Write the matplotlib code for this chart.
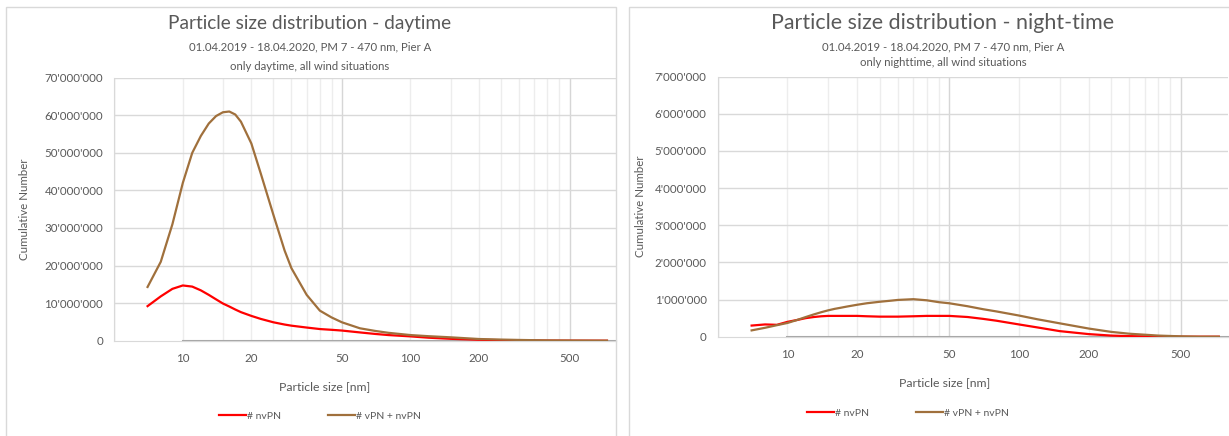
"""Particle size distribution, daytime vs night-time (Excel-style look)."""
import matplotlib
matplotlib.use("Agg")
import matplotlib.pyplot as plt
from matplotlib.patches import Rectangle

W, H = 1229, 436
GREY = "#595959"
RED = "#ff0000"
BROWN = "#a0703c"

# particle size [nm]
size_nm = [7, 8, 9, 10, 11, 12, 13, 14, 15, 16, 17, 18, 20, 22, 25, 28, 30, 35, 40,
           45, 50, 60, 70, 80, 100, 120, 150, 200, 250, 300, 400, 500, 600, 730]

# daytime, cumulative number (millions)
day_nvpn = [9.2, 11.8, 13.8, 14.7, 14.4, 13.4, 12.2, 11.0, 9.9, 9.1, 8.3, 7.6, 6.6, 5.8,
            4.9, 4.3, 4.0, 3.5, 3.1, 2.9, 2.7, 2.2, 1.8, 1.5, 1.15, 0.8, 0.5, 0.25, 0.15,
            0.1, 0.04, 0.02, 0.01, 0.0]
day_total = [14.3, 21.0, 31.0, 42.0, 50.0, 54.5, 57.8, 59.8, 60.8, 61.0, 60.2, 58.3, 52.5,
             44.5, 33.5, 24.0, 19.3, 12.2, 8.0, 6.2, 4.9, 3.3, 2.6, 2.1, 1.5, 1.2, 0.9,
             0.45, 0.3, 0.2, 0.08, 0.04, 0.02, 0.0]

# night-time, cumulative number (millions)
night_nvpn = [0.30, 0.33, 0.32, 0.40, 0.45, 0.50, 0.53, 0.55, 0.56, 0.56, 0.56, 0.56, 0.56,
              0.55, 0.54, 0.54, 0.54, 0.55, 0.56, 0.56, 0.56, 0.53, 0.48, 0.43, 0.33, 0.25,
              0.15, 0.07, 0.03, 0.015, 0.005, 0.0, 0.0, 0.0]
night_total = [0.17, 0.24, 0.31, 0.37, 0.45, 0.53, 0.60, 0.66, 0.71, 0.75, 0.78, 0.81, 0.86,
               0.90, 0.94, 0.97, 0.99, 1.01, 0.98, 0.93, 0.90, 0.82, 0.74, 0.68, 0.57, 0.47,
               0.36, 0.22, 0.13, 0.08, 0.03, 0.01, 0.0, 0.0]

x_ticks = [10, 20, 50, 100, 200, 500]
labels = ["# nvPN", "# vPN + nvPN"]

plt.rcParams["font.family"] = ["Lato", "DejaVu Sans"]


def fx(x):
    return x / W


def fy(y):
    return 1 - y / H


def panel(fig, box, x0, x1, ytop, ybot, ymax, step, nv, tot, title, tsize, sub2,
          ty, s1y, s2y, ylab_x, xlab_x, xlab_y, leg_x, leg_y, tcx):
    # chart frame
    fig.add_artist(Rectangle((fx(box[0]), fy(box[3])), fx(box[2] - box[0]),
                             (box[3] - box[1]) / H, transform=fig.transFigure,
                             fill=False, ec="#d9d9d9", lw=1))
    ax = fig.add_axes([fx(x0), fy(ybot), fx(x1 - x0), (ybot - ytop) / H])
    ax.set_xscale("log")
    ax.set_xlim(5, 800)
    ax.set_ylim(0, ymax)
    # gridlines: Excel log axis based at 5
    for dec in [5, 50, 500]:
        for m in range(1, 10):
            v = dec * m
            if v > 800:
                break
            ax.axvline(v, color="#d6d6d6" if m == 1 else "#ededed", lw=1, zorder=0)
    for v in range(step, ymax + 1, step):
        ax.axhline(v, color="#d9d9d9", lw=1, zorder=0)
    for s in ax.spines.values():
        s.set_visible(False)
    ax.spines["left"].set_visible(True)
    ax.spines["left"].set_color("#d9d9d9")
    ax.spines["bottom"].set_visible(True)
    ax.spines["bottom"].set_color("#d9d9d9")
    ax.plot([10, 800], [0, 0], color="#a6a6a6", lw=1.5, zorder=1, clip_on=False)

    ax.plot(size_nm, [v * 1e6 for v in nv], color=RED, lw=1.6, label=labels[0], zorder=3)
    ax.plot(size_nm, [v * 1e6 for v in tot], color=BROWN, lw=1.6, label=labels[1], zorder=3)

    ax.set_xticks(x_ticks)
    ax.set_xticklabels([str(t) for t in x_ticks])
    ax.xaxis.set_minor_locator(matplotlib.ticker.NullLocator())
    yt = list(range(0, ymax + 1, step))
    ax.set_yticks(yt)
    ax.set_yticklabels([f"{v:,}".replace(",", "'") for v in yt])
    ax.tick_params(length=0, colors=GREY, labelsize=8.3)
    ax.tick_params(axis="y", pad=8)
    ax.tick_params(axis="x", pad=9)

    fig.text(fx(tcx), fy(ty), title, ha="center", va="center", fontsize=tsize, color=GREY)
    fig.text(fx(tcx), fy(s1y), "01.04.2019 - 18.04.2020, PM 7 - 470 nm, Pier A",
             ha="center", va="center", fontsize=8.2, color=GREY)
    fig.text(fx(tcx), fy(s2y), sub2, ha="center", va="center", fontsize=8.2, color=GREY)
    fig.text(fx(ylab_x), fy((ytop + ybot) / 2), "Cumulative Number", rotation=90,
             ha="center", va="center", fontsize=8.3, color=GREY)
    fig.text(fx(xlab_x), fy(xlab_y), "Particle size [nm]", ha="center", va="center",
             fontsize=8.8, color=GREY)
    ax.legend(loc="center", bbox_to_anchor=(fx(leg_x), fy(leg_y)),
              bbox_transform=fig.transFigure, ncol=2, frameon=False, fontsize=7.5,
              handlelength=2.6, handletextpad=0.1, columnspacing=4.5,
              labelcolor=GREY)
    return ax


fig = plt.figure(figsize=(W / 100, H / 100), dpi=100)

panel(fig, (5.7, 7.3, 616, 445), 114.3, 616, 77.7, 340.7, 70_000_000, 10_000_000,
      day_nvpn, day_total, "Particle size distribution - daytime", 13.7,
      "only daytime, all wind situations", 24, 47, 66, 25, 325, 386.5, 320, 416, 310)
panel(fig, (629.3, 7.3, 1240, 445), 717.8, 1228, 76.7, 336.7, 7_000_000, 1_000_000,
      night_nvpn, night_total, "Particle size distribution - night-time", 15.4,
      "only nighttime, all wind situations", 23, 46.5, 62.5, 641, 945, 383, 908, 413, 943)

fig.savefig("out.png", dpi=100)
